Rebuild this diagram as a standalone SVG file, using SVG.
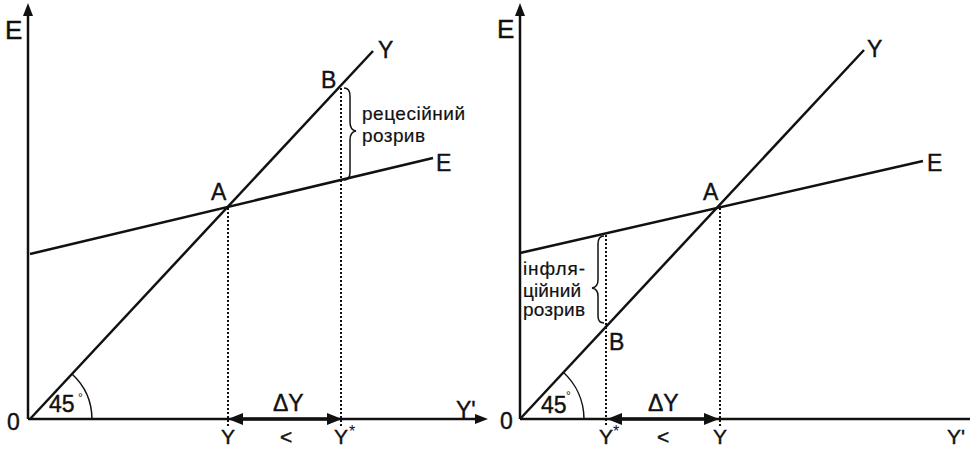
<svg xmlns="http://www.w3.org/2000/svg" width="970" height="450" viewBox="0 0 970 450">
<style>
.ax{stroke:#111;stroke-width:2.5;fill:none}
.ln{stroke:#111;stroke-width:2.5;fill:none}
.dt{stroke:#111;stroke-width:2;stroke-dasharray:2 2;fill:none}
.thin{stroke:#111;stroke-width:1.5;fill:none}
.dbl{stroke:#111;stroke-width:3.5;fill:none}
.ah{fill:#111}
text{font-family:"Liberation Sans",Arial,sans-serif;fill:#111}
.lb{font-size:23px;stroke:#111;stroke-width:0.4}
.bt{font-size:21px;stroke:#111;stroke-width:0.4}
.sm{font-size:19px;stroke:#111;stroke-width:0.2}
</style>
<rect width="970" height="450" fill="#fff"/>
<g id="left-panel">
  <g id="left-axes">
    <line class="ax" x1="28" y1="419" x2="28" y2="12"/>
    <polygon class="ah" points="28,3 23,16 33,16"/>
    <line class="ax" x1="28" y1="419" x2="478" y2="419"/>
    <polygon class="ah" points="488,419 475,414 475,424"/>
    <text class="lb" x="5" y="39" style="font-size:26px">E</text>
    <text class="lb" x="7" y="430">0</text>
    <text class="lb" x="456" y="418">Y'</text>
  </g>
  <g id="left-Yline">
    <line class="ln" x1="30" y1="419" x2="373" y2="51"/>
    <text class="lb" x="378" y="58">Y</text>
  </g>
  <g id="left-Eline">
    <line class="ln" x1="30" y1="254" x2="433" y2="158"/>
    <text class="lb" x="436" y="171">E</text>
  </g>
  <g id="left-angle">
    <path class="thin" d="M92,419 A62,62 0 0 0 72,374"/>
    <text class="lb" x="49" y="412">45</text>
    <text x="78" y="402" style="font-size:12px">°</text>
  </g>
  <g id="left-A">
    <text class="lb" x="211" y="200">A</text>
  </g>
  <g id="left-B">
    <text class="lb" x="321" y="88">B</text>
  </g>
  <g id="left-gap">
    <path class="thin" d="M344,88 Q350,88 350,96 L350,122 Q350,130 356,131 Q350,132 350,140 L350,172 Q350,180 344,180"/>
    <text class="sm" x="362" y="120" textLength="103">рецесійний</text>
    <text class="sm" x="362" y="142" textLength="63">розрив</text>
  </g>
  <g id="left-bottom">
    <text class="bt" x="228" y="444" text-anchor="middle">Y</text>
    <text class="bt" x="280" y="444">&lt;</text>
    <text class="bt" x="334" y="444">Y</text>
    <text x="349" y="437" style="font-size:16px">*</text>
    <text class="lb" x="273" y="411">ΔY</text>
  </g>
</g>
<g id="right-panel">
  <g id="right-axes">
    <line class="ax" x1="520" y1="419" x2="520" y2="12"/>
    <polygon class="ah" points="520,3 515,16 525,16"/>
    <line class="ax" x1="520" y1="419" x2="970" y2="419"/>
    <text class="lb" x="497" y="38" style="font-size:26px">E</text>
    <text class="lb" x="500" y="429">0</text>
    <text class="bt" x="947" y="444">Y'</text>
  </g>
  <g id="right-Yline">
    <line class="ln" x1="520" y1="419" x2="864" y2="50"/>
    <text class="lb" x="867" y="57">Y</text>
  </g>
  <g id="right-Eline">
    <line class="ln" x1="520" y1="253" x2="923" y2="161"/>
    <text class="lb" x="927" y="171">E</text>
  </g>
  <g id="right-angle">
    <path class="thin" d="M584,419 A64,64 0 0 0 563,372"/>
    <text class="lb" x="541" y="413">45</text>
    <text x="566" y="400" style="font-size:12px">°</text>
  </g>
  <g id="right-A">
    <text class="lb" x="703" y="200">A</text>
  </g>
  <g id="right-B">
    <text class="lb" x="609" y="350">B</text>
  </g>
  <g id="right-gap">
    <path class="thin" d="M604,236 Q598,236 598,244 L598,280 Q598,287 592,288 Q598,289 598,296 L598,316 Q598,323 604,323"/>
    <text class="sm" x="523" y="275" textLength="62">інфля-</text>
    <text class="sm" x="523" y="297" textLength="58">ційний</text>
    <text class="sm" x="523" y="316" textLength="62">розрив</text>
  </g>
  <g id="right-bottom">
    <text class="bt" x="599" y="444">Y</text>
    <text x="613" y="437" style="font-size:16px">*</text>
    <text class="bt" x="657" y="444">&lt;</text>
    <text class="bt" x="720" y="444" text-anchor="middle">Y</text>
    <text class="lb" x="648" y="411">ΔY</text>
  </g>
</g>
<g id="connectors">
  <line class="dt" x1="228" y1="208" x2="228" y2="426"/>
  <line class="dt" x1="341" y1="88" x2="341" y2="426"/>
  <line class="dt" x1="606" y1="235" x2="606" y2="426"/>
  <line class="dt" x1="720" y1="208" x2="720" y2="426"/>
  <line class="dbl" x1="240" y1="419" x2="330" y2="419"/>
  <polygon class="ah" points="228,419 243,413 243,425"/>
  <polygon class="ah" points="342,419 327,413 327,425"/>
  <line class="dbl" x1="618" y1="419" x2="708" y2="419"/>
  <polygon class="ah" points="607,419 622,413 622,425"/>
  <polygon class="ah" points="719,419 704,413 704,425"/>
</g>
</svg>
